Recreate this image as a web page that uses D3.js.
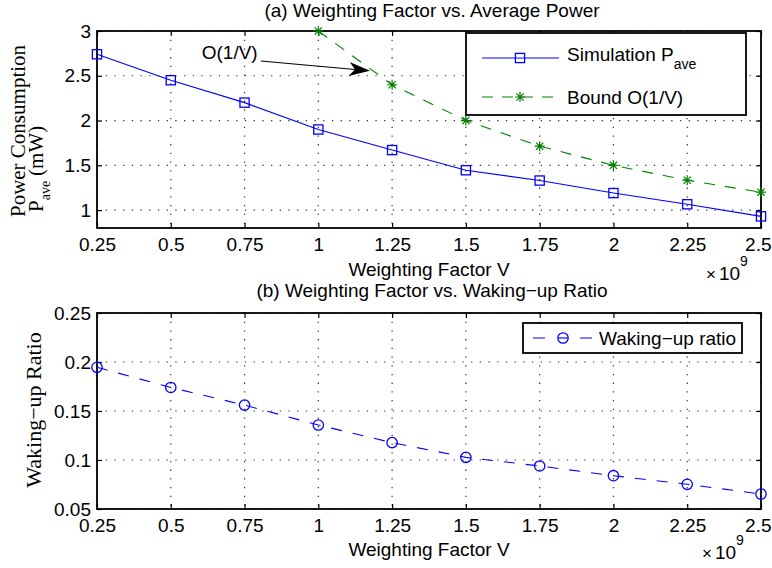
<!DOCTYPE html>
<html>
<head>
<meta charset="utf-8">
<script src="https://cdn.jsdelivr.net/npm/d3@7/dist/d3.min.js"></script>
<style>
  html, body { margin: 0; padding: 0; background: #fff; }
  svg { display: block; }
  .sans { font-family: "Liberation Sans", Arial, Helvetica, sans-serif; }
  .serif { font-family: "Liberation Serif", "Times New Roman", serif; }
</style>
</head>
<body>
<svg id="chart" width="772" height="568"></svg>
<script>
// Weighting factor V (in units of 1e9)
const vValues = [0.25, 0.5, 0.75, 1, 1.25, 1.5, 1.75, 2, 2.25, 2.5];
const xTickLabels = ["0.25", "0.5", "0.75", "1", "1.25", "1.5", "1.75", "2", "2.25", "2.5"];

// (a) simulated average power (mW)
const powerSim = [2.74, 2.45, 2.20, 1.90, 1.67, 1.445, 1.33, 1.19, 1.065, 0.93];
// (a) O(1/V) bound
const boundV = [1, 1.25, 1.5, 1.75, 2, 2.25, 2.5];
const boundPower = [3.0, 2.4, 2.0, 1.714, 1.5, 1.333, 1.2];
const powerTicks = [1, 1.5, 2, 2.5, 3];
const powerTickLabels = ["1", "1.5", "2", "2.5", "3"];

// (b) waking-up ratio
const wakeRatio = [0.1946, 0.174, 0.156, 0.1357, 0.1177, 0.1027, 0.0939, 0.084, 0.0752, 0.0653];
const ratioTicks = [0.05, 0.1, 0.15, 0.2, 0.25];
const ratioTickLabels = ["0.05", "0.1", "0.15", "0.2", "0.25"];

const svg = d3.select("#chart");
const BLUE = "#0000ff", GREEN = "#008000";
const FS = 19;

const left = 97, right = 761;
const x = d3.scaleLinear().domain([0.25, 2.5]).range([left, right]);
const yA = d3.scaleLinear().domain([0.8, 3]).range([228, 31]);
const yB = d3.scaleLinear().domain([0.05, 0.25]).range([509, 313]);

function drawAxes(g, y, yTicks, yLabels, top, bottom) {
  // dotted grid
  g.append("g").selectAll("line").data(vValues).join("line")
    .attr("x1", d => x(d)).attr("x2", d => x(d))
    .attr("y1", top).attr("y2", bottom)
    .attr("stroke", "#333").attr("stroke-width", 1.2)
    .attr("stroke-dasharray", "1.3,7.4");
  g.append("g").selectAll("line").data(yTicks).join("line")
    .attr("x1", left).attr("x2", right)
    .attr("y1", d => y(d)).attr("y2", d => y(d))
    .attr("stroke", "#333").attr("stroke-width", 1.2)
    .attr("stroke-dasharray", "1.3,7.4");

  const fmtX = d => xTickLabels[vValues.indexOf(d)];
  const fmtY = d => yLabels[yTicks.indexOf(d)];

  const ax = g.append("g").attr("transform", `translate(0,${bottom})`)
    .call(d3.axisBottom(x).tickValues(vValues).tickFormat(fmtX).tickSizeInner(-5).tickSizeOuter(0).tickPadding(10));
  const axT = g.append("g").attr("transform", `translate(0,${top})`)
    .call(d3.axisTop(x).tickValues(vValues).tickFormat("").tickSizeInner(-5).tickSizeOuter(0));
  const ay = g.append("g").attr("transform", `translate(${left},0)`)
    .call(d3.axisLeft(y).tickValues(yTicks).tickFormat(fmtY).tickSizeInner(-5).tickSizeOuter(0).tickPadding(6));
  const ayR = g.append("g").attr("transform", `translate(${right},0)`)
    .call(d3.axisRight(y).tickValues(yTicks).tickFormat("").tickSizeInner(-5).tickSizeOuter(0));

  [ax, axT, ay, ayR].forEach(a => {
    a.select(".domain").remove();
    a.selectAll(".tick line").attr("stroke", "#000").attr("stroke-width", 1.2);
    a.selectAll("text").attr("class", "sans").attr("font-size", FS).attr("fill", "#000");
  });
  // keep the last x label inside the page edge
  ax.selectAll(".tick text").filter(d => d === vValues[vValues.length - 1])
    .attr("text-anchor", "end").attr("x", 10);

  // box
  g.append("rect").attr("x", left).attr("y", top)
    .attr("width", right - left).attr("height", bottom - top)
    .attr("fill", "none").attr("stroke", "#000").attr("stroke-width", 1.8);
}

function square(g, cx, cy, color) {
  g.append("rect").attr("x", cx - 4.6).attr("y", cy - 4.6).attr("width", 9.2).attr("height", 9.2)
    .attr("fill", "none").attr("stroke", color).attr("stroke-width", 1.3);
}
function star(g, cx, cy, color) {
  const r = 5, d = 3.6;
  const p = `M${cx - r},${cy}H${cx + r}M${cx},${cy - r}V${cy + r}` +
            `M${cx - d},${cy - d}L${cx + d},${cy + d}M${cx - d},${cy + d}L${cx + d},${cy - d}`;
  g.append("path").attr("d", p).attr("stroke", color).attr("stroke-width", 1.2).attr("fill", "none");
}
function circle(g, cx, cy, color) {
  g.append("circle").attr("cx", cx).attr("cy", cy).attr("r", 5.2)
    .attr("fill", "none").attr("stroke", color).attr("stroke-width", 1.3);
}
function timesTen(x0, yBase) {
  const t = svg.append("text").attr("class", "sans").attr("font-size", FS).attr("x", x0).attr("y", yBase);
  t.append("tspan").attr("font-size", 17).text("×");
  t.append("tspan").attr("dx", 3).text("10");
  t.append("tspan").attr("font-size", 14).attr("dy", -14).text("9");
}

// ---------- (a) ----------
const gA = svg.append("g");
drawAxes(gA, yA, powerTicks, powerTickLabels, 31, 228);

const simPts = vValues.map((v, i) => [x(v), yA(powerSim[i])]);
const bndPts = boundV.map((v, i) => [x(v), yA(boundPower[i])]);
const line = d3.line();

gA.append("path").attr("d", line(bndPts)).attr("fill", "none")
  .attr("stroke", GREEN).attr("stroke-width", 1.1).attr("stroke-dasharray", "11,10");
gA.append("path").attr("d", line(simPts)).attr("fill", "none")
  .attr("stroke", BLUE).attr("stroke-width", 1.1);
simPts.forEach(p => square(gA, p[0], p[1], BLUE));
bndPts.forEach(p => star(gA, p[0], p[1], GREEN));

// arrow annotation pointing at the bound curve
const annText = [0.605, 2.69];
const annFrom = [0.805, 2.665];
const annTip = [1.175, 2.555];
gA.append("text").attr("class", "sans").attr("font-size", FS)
  .attr("x", x(annText[0])).attr("y", yA(annText[1])).text("O(1/V)");
{
  const x0 = x(annFrom[0]), y0 = yA(annFrom[1]), x1 = x(annTip[0]), y1 = yA(annTip[1]);
  const ang = Math.atan2(y1 - y0, x1 - x0);
  const L = 21, W = 7, back = 15;
  const ux = Math.cos(ang), uy = Math.sin(ang), nx = -uy, ny = ux;
  gA.append("line").attr("x1", x0).attr("y1", y0)
    .attr("x2", x1 - ux * back).attr("y2", y1 - uy * back)
    .attr("stroke", "#000").attr("stroke-width", 1.1);
  const bx = x1 - ux * L, by = y1 - uy * L;
  const mx = x1 - ux * back, my = y1 - uy * back;
  gA.append("path").attr("fill", "#000")
    .attr("d", `M${x1},${y1}L${bx + nx * W},${by + ny * W}L${mx},${my}L${bx - nx * W},${by - ny * W}Z`);
}

// legend (a)
{
  const lg = gA.append("g");
  lg.append("rect").attr("x", 466).attr("y", 33).attr("width", 280).attr("height", 82)
    .attr("fill", "#fff").attr("stroke", "#000").attr("stroke-width", 1.8);
  lg.append("line").attr("x1", 482).attr("x2", 559).attr("y1", 58).attr("y2", 58)
    .attr("stroke", BLUE).attr("stroke-width", 1.1);
  square(lg, 520, 58, BLUE);
  const t1 = lg.append("text").attr("class", "sans").attr("font-size", FS)
    .attr("x", 567).attr("y", 61);
  t1.append("tspan").text("Simulation P");
  t1.append("tspan").attr("font-size", 14).attr("dy", 8).text("ave");

  lg.append("line").attr("x1", 482).attr("x2", 559).attr("y1", 97).attr("y2", 97)
    .attr("stroke", GREEN).attr("stroke-width", 1.1).attr("stroke-dasharray", "11,9");
  star(lg, 520, 97, GREEN);
  lg.append("text").attr("class", "sans").attr("font-size", FS)
    .attr("x", 567).attr("y", 104).text("Bound O(1/V)");
}

// titles and labels (a)
svg.append("text").attr("class", "sans").attr("font-size", FS).attr("text-anchor", "middle")
  .attr("x", 432).attr("y", 17).text("(a) Weighting Factor vs. Average Power");
svg.append("text").attr("class", "sans").attr("font-size", FS).attr("text-anchor", "middle")
  .attr("x", 429).attr("y", 276).text("Weighting Factor V");
timesTen(706, 280);
svg.append("text").attr("class", "serif").attr("font-size", 21).attr("text-anchor", "middle")
  .attr("transform", "translate(25,131) rotate(-90)").text("Power Consumption");
{
  const t = svg.append("text").attr("class", "serif").attr("font-size", 21).attr("text-anchor", "start")
    .attr("transform", "translate(43,212) rotate(-90)");
  t.append("tspan").text("P");
  t.append("tspan").attr("font-size", 14).attr("dy", 7).text("ave");
  t.append("tspan").attr("dy", -7).attr("dx", 5).text("(mW)");
}

// ---------- (b) ----------
const gB = svg.append("g");
drawAxes(gB, yB, ratioTicks, ratioTickLabels, 313, 509);
const wakePts = vValues.map((v, i) => [x(v), yB(wakeRatio[i])]);
gB.append("path").attr("d", line(wakePts)).attr("fill", "none")
  .attr("stroke", BLUE).attr("stroke-width", 1.1).attr("stroke-dasharray", "11,11");
wakePts.forEach(p => circle(gB, p[0], p[1], BLUE));

// legend (b)
{
  const lg = gB.append("g");
  lg.append("rect").attr("x", 523).attr("y", 323).attr("width", 219).attr("height", 30)
    .attr("fill", "#fff").attr("stroke", "#000").attr("stroke-width", 1.8);
  lg.append("line").attr("x1", 533).attr("x2", 592).attr("y1", 338).attr("y2", 338)
    .attr("stroke", BLUE).attr("stroke-width", 1.1).attr("stroke-dasharray", "12,35");
  lg.append("line").attr("x1", 558).attr("x2", 568).attr("y1", 338).attr("y2", 338)
    .attr("stroke", BLUE).attr("stroke-width", 1.1);
  circle(lg, 563, 338, BLUE);
  lg.append("text").attr("class", "sans").attr("font-size", FS)
    .attr("x", 599).attr("y", 345).text("Waking−up ratio");
}

svg.append("text").attr("class", "sans").attr("font-size", FS).attr("text-anchor", "middle")
  .attr("x", 432).attr("y", 297).text("(b) Weighting Factor vs. Waking−up Ratio");
svg.append("text").attr("class", "sans").attr("font-size", FS).attr("text-anchor", "middle")
  .attr("x", 429).attr("y", 556).text("Weighting Factor V");
timesTen(702, 559);
svg.append("text").attr("class", "serif").attr("font-size", 22).attr("text-anchor", "middle")
  .attr("transform", "translate(41,410) rotate(-90)").text("Waking−up Ratio");
</script>
</body>
</html>
